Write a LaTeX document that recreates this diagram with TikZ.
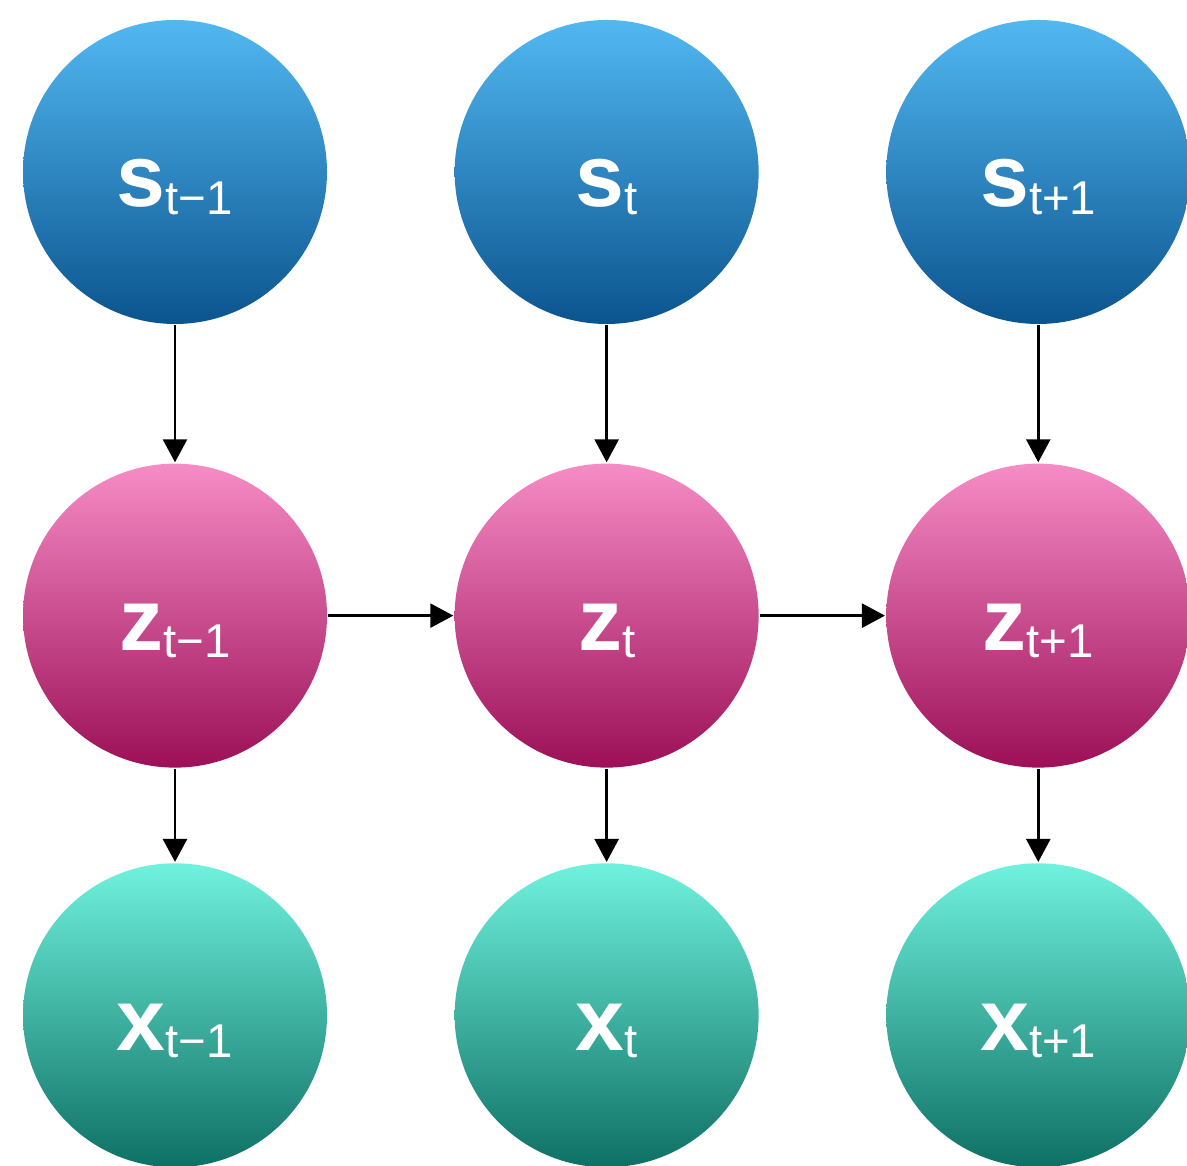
\documentclass[tikz,border=0pt]{standalone}
\usepackage{fontspec}
\setmainfont{Liberation Sans}
\usetikzlibrary{arrows.meta,positioning}
\newcommand{\nodelab}[2]{\textbf{#1}\raisebox{-4pt}{\fontsize{27}{27}\selectfont #2}}
\definecolor{stop}{RGB}{82,184,242}
\definecolor{sbot}{RGB}{11,84,142}
\definecolor{ztop}{RGB}{246,140,198}
\definecolor{zbot}{RGB}{156,16,88}
\definecolor{xtop}{RGB}{112,242,222}
\definecolor{xbot}{RGB}{14,112,100}

\begin{document}
\begin{tikzpicture}[
  var/.style={circle, minimum size=6.08cm, inner sep=0pt, text=white,
    text height=1.4cm, text depth=0pt, font=\fontsize{50}{50}\selectfont},
  svar/.style={var, top color=stop, bottom color=sbot},
  zvar/.style={var, top color=ztop, bottom color=zbot},
  xvar/.style={var, top color=xtop, bottom color=xbot},
  >={Triangle[width=0.48cm, length=0.46cm]}, line width=1.5pt,
  node distance=2.74cm and 2.5cm]
  \useasboundingbox (0,0) rectangle (23.74,23.30);
  \node[svar] (s1) at (3.5,19.86) {\nodelab{s}{t−1}};
  \node[svar, right=of s1] (s2) {\nodelab{s}{t}};
  \node[svar, right=of s2] (s3) {\nodelab{s}{t+1}};
  \node[zvar, below=of s1] (z1) {\nodelab{z}{t−1}};
  \node[zvar, below=of s2] (z2) {\nodelab{z}{t}};
  \node[zvar, below=of s3] (z3) {\nodelab{z}{t+1}};
  \node[xvar, below=1.86cm of z1] (x1) {\nodelab{x}{t−1}};
  \node[xvar, below=1.86cm of z2] (x2) {\nodelab{x}{t}};
  \node[xvar, below=1.86cm of z3] (x3) {\nodelab{x}{t+1}};
  \draw[->] (s1) -- (z1);
  \draw[->] (s2) -- (z2);
  \draw[->] (s3) -- (z3);
  \draw[->] (z1) -- (z2);
  \draw[->] (z2) -- (z3);
  \draw[->] (z1) -- (x1);
  \draw[->] (z2) -- (x2);
  \draw[->] (z3) -- (x3);
\end{tikzpicture}
\end{document}
